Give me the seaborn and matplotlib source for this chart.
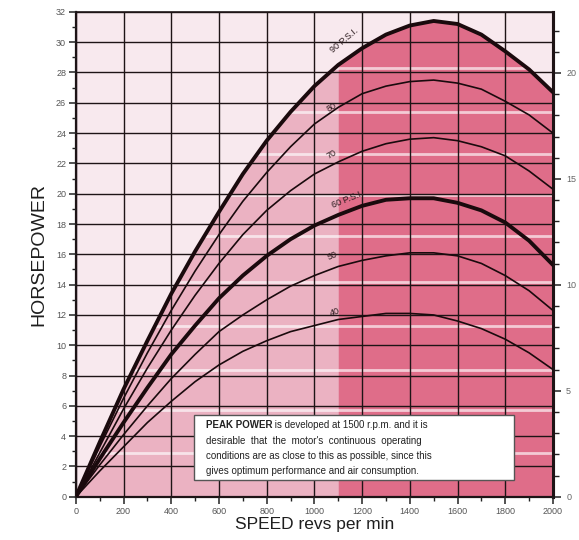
"""
Air motor power curves: horsepower vs speed at several supply pressures.
"""

import numpy as np
import pandas as pd
import matplotlib
matplotlib.use('Agg')
import matplotlib.pyplot as plt
from matplotlib.ticker import MultipleLocator
import seaborn as sns

# speed (revs per min)
rpm = [0, 100, 200, 300, 400, 500, 600, 700, 800, 900, 1000,
       1100, 1200, 1300, 1400, 1500, 1600, 1700, 1800, 1900, 2000]

# horsepower
hp_90 = [0, 3.6, 7.1, 10.3, 13.4, 16.2, 18.8, 21.3, 23.5, 25.4, 27.1,
         28.5, 29.6, 30.5, 31.1, 31.4, 31.2, 30.5, 29.4, 28.2, 26.7]
hp_80 = [0, 3.3, 6.5, 9.5, 12.3, 14.9, 17.3, 19.5, 21.4, 23.1, 24.6,
         25.7, 26.6, 27.1, 27.4, 27.5, 27.3, 26.9, 26.1, 25.2, 24.0]
hp_70 = [0, 2.9, 5.8, 8.5, 11.0, 13.3, 15.4, 17.3, 18.9, 20.2, 21.3,
         22.1, 22.8, 23.3, 23.6, 23.7, 23.5, 23.1, 22.5, 21.5, 20.3]
hp_60 = [0, 2.5, 4.9, 7.2, 9.4, 11.3, 13.1, 14.6, 15.9, 17.0, 17.9,
         18.6, 19.2, 19.6, 19.7, 19.7, 19.4, 18.9, 18.1, 16.9, 15.3]
hp_50 = [0, 2.1, 4.1, 6.0, 7.8, 9.4, 10.9, 12.0, 13.0, 13.9, 14.6,
         15.2, 15.6, 15.9, 16.1, 16.1, 15.9, 15.4, 14.6, 13.6, 12.3]
hp_40 = [0, 1.7, 3.3, 4.9, 6.3, 7.6, 8.7, 9.6, 10.3, 10.9, 11.3,
         11.7, 11.9, 12.1, 12.1, 12.0, 11.6, 11.1, 10.4, 9.5, 8.4]

curve_names = ['90 P.S.I.', '80', '70', '60 P.S.I.', '50', '40']
curve_values = [hp_90, hp_80, hp_70, hp_60, hp_50, hp_40]
bold_curves = ['90 P.S.I.', '60 P.S.I.']

x_ticks = [0, 200, 400, 600, 800, 1000, 1200, 1400, 1600, 1800, 2000]
y_ticks = [0, 2, 4, 6, 8, 10, 12, 14, 16, 18, 20, 22, 24, 26, 28, 30, 32]
right_ticks = [0, 5, 10, 15, 20]
HP_TO_RIGHT = 0.715

# pale printing bands that run across the shaded area
band_levels = [2.9, 5.7, 8.4, 11.3, 14.2, 17.2, 19.9, 22.6, 25.4, 28.3]

note = ["desirable  that  the  motor's  continuous  operating",
        "conditions are as close to this as possible, since this",
        "gives optimum performance and air consumption."]

df = pd.DataFrame({
    'rpm': np.tile(rpm, len(curve_names)),
    'hp': np.concatenate(curve_values),
    'curve': np.repeat(curve_names, len(rpm)),
})


def main():
    sns.set_theme(style='white')
    plt.rcParams['font.family'] = ['Liberation Sans', 'DejaVu Sans']

    fig = plt.figure(figsize=(5.79, 5.40), dpi=100)
    fig.patch.set_facecolor('white')
    ax = fig.add_axes([0.131, 0.080, 0.824, 0.898])
    ax.set_facecolor('#f8e9ee')

    # pink shading under the top curve, deeper beyond ~1100 rpm
    r = np.array(rpm)
    top = np.array(hp_90)
    shade = ax.fill_between(r, 0, top, color='#ebb2c2', lw=0, zorder=1)
    ax.fill_between(r, 0, top, where=r >= 1100, color='#df6d89', lw=0, zorder=1.1)
    for lvl in band_levels:
        band = ax.axhline(lvl, color='white', lw=2.0, alpha=0.65, zorder=1.2)
        band.set_clip_path(shade.get_paths()[0], transform=ax.transData)

    for name in curve_names:
        sub = df[df['curve'] == name]
        lw = 2.8 if name in bold_curves else 1.2
        sns.lineplot(data=sub, x='rpm', y='hp', color='#1a0a0d', lw=lw,
                     ax=ax, zorder=3, legend=False)

    # curve labels
    labels = {'90 P.S.I.': (1125, 30.1, 40), '80': (1074, 25.7, 30),
              '70': (1074, 22.6, 30), '60 P.S.I.': (1140, 19.6, 22),
              '50': (1074, 15.9, 22), '40': (1086, 12.2, 18)}
    for name, (lx, ly, rot) in labels.items():
        ax.text(lx, ly, name, fontsize=6.5, rotation=rot, color='#2a1a1d',
                ha='center', va='center', zorder=4)

    ax.set_xlim(0, 2000)
    ax.set_ylim(0, 32)
    ax.set_xticks(x_ticks)
    ax.set_yticks(y_ticks)
    ax.xaxis.set_minor_locator(MultipleLocator(100))
    ax.yaxis.set_minor_locator(MultipleLocator(1))
    ax.tick_params(which='major', direction='out', length=5, width=1.1, pad=2,
                   color='#222222', labelsize=6.5, labelcolor='#555555',
                   left=True, bottom=True)
    ax.tick_params(which='minor', direction='out', length=3, width=1.0,
                   color='#222222', left=True, bottom=True)
    ax.set_axisbelow(False)
    ax.grid(True, which='major', color='#1e1416', lw=1.0)

    for side, w in [('left', 1.6), ('bottom', 1.6), ('top', 1.2), ('right', 2.2)]:
        ax.spines[side].set_visible(True)
        ax.spines[side].set_color('#1e1416')
        ax.spines[side].set_linewidth(w)

    ax.set_xlabel('SPEED revs per min', fontsize=12.5, color='#1e1e1e', labelpad=1)
    ax.set_ylabel('HORSEPOWER', fontsize=14, color='#1e1e1e', labelpad=6)

    sec = ax.secondary_yaxis('right', functions=(lambda h: h * HP_TO_RIGHT,
                                                 lambda u: u / HP_TO_RIGHT))
    sec.set_yticks(right_ticks)
    sec.yaxis.set_minor_locator(MultipleLocator(1))
    sec.tick_params(which='major', direction='out', length=6, width=1.1,
                    color='#222222', labelsize=6.5, labelcolor='#666666')
    sec.tick_params(which='minor', direction='out', length=4, width=1.0,
                    color='#222222')
    sec.spines['right'].set_linewidth(2.2)

    # note box
    box = plt.Rectangle((497, 1.1), 1340, 4.3, facecolor='white',
                        edgecolor='#555555', lw=1.0, zorder=4)
    ax.add_patch(box)
    t1 = ax.text(545, 4.75, 'PEAK POWER', fontsize=7, fontweight='bold',
                 color='#222222', va='center', zorder=5)
    ax.annotate(" is developed at 1500 r.p.m. and it is", xy=(1, 0.5),
                xycoords=t1, va='center', ha='left', fontsize=7,
                color='#222222', zorder=5)
    for i, line in enumerate(note):
        ax.text(545, 3.7 - i * 1.0, line, fontsize=7, color='#222222',
                va='center', zorder=5)

    fig.savefig('out.png', dpi=100)
    plt.close(fig)


if __name__ == "__main__":
    main()
